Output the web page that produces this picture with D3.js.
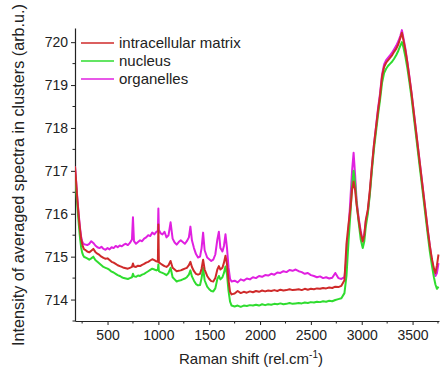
<!DOCTYPE html>
<html>
<head>
<meta charset="utf-8">
<script src="https://cdn.jsdelivr.net/npm/d3@7"></script>
<style>
  html, body { margin: 0; padding: 0; background: #fff; }
  svg { display: block; font-family: "Liberation Sans", Arial, sans-serif; }
</style>
</head>
<body>
<svg id="chart" width="442" height="377"></svg>
<script>
// Raman shift grid (rel. cm^-1), shared by all three averaged spectra
const shift = [
  180, 190, 200, 210, 220, 230, 240, 250, 260, 270,
  285, 300, 320, 340, 360, 380, 400, 420, 440, 460,
  480, 500, 520, 540, 560, 580, 600, 620, 640, 660,
  680, 700, 720, 740, 750, 760, 780, 800, 820, 840,
  860, 880, 900, 920, 940, 960, 980, 995, 1000, 1005,
  1020, 1040, 1060, 1080, 1100, 1120, 1140, 1160, 1180, 1200,
  1220, 1240, 1260, 1280, 1300, 1315, 1330, 1350, 1370, 1390,
  1410, 1425, 1440, 1455, 1480, 1500, 1520, 1540, 1560, 1580,
  1595, 1610, 1630, 1645, 1660, 1675, 1690, 1705, 1720, 1750,
  1780, 1810, 1840, 1870, 1900, 1930, 1960, 1990, 2020, 2050,
  2080, 2110, 2140, 2170, 2200, 2230, 2260, 2290, 2320, 2350,
  2380, 2410, 2440, 2470, 2500, 2530, 2560, 2590, 2620, 2650,
  2680, 2710, 2740, 2770, 2800, 2830, 2850, 2870, 2890, 2905,
  2920, 2935, 2950, 2970, 2990, 3010, 3025, 3040, 3060, 3080,
  3100, 3120, 3140, 3160, 3180, 3200, 3220, 3240, 3260, 3280,
  3300, 3320, 3340, 3360, 3380, 3395, 3410, 3430, 3450, 3470,
  3490, 3510, 3530, 3550, 3570, 3590, 3610, 3630, 3650, 3670,
  3690, 3710, 3725, 3740, 3755
];

// intracellular matrix
const matrix = [
  717.10, 716.78, 716.42, 716.12, 715.85, 715.62, 715.42, 715.30, 715.22, 715.17,
  715.15, 715.12, 715.10, 715.14, 715.18, 715.11, 715.07, 715.04, 715.00, 714.97,
  714.95, 714.96, 714.92, 714.88, 714.86, 714.83, 714.80, 714.78, 714.76, 714.74,
  714.73, 714.72, 714.74, 714.76, 714.84, 714.77, 714.76, 714.79, 714.78, 714.81,
  714.83, 714.86, 714.88, 714.91, 714.94, 714.92, 714.89, 714.88, 715.75, 714.87,
  714.84, 714.81, 714.78, 714.76, 714.80, 714.90, 714.74, 714.70, 714.66, 714.67,
  714.68, 714.70, 714.72, 714.74, 714.80, 714.88, 714.76, 714.66, 714.60, 714.58,
  714.60, 714.72, 714.93, 714.70, 714.55, 714.48, 714.43, 714.42, 714.50, 714.70,
  714.78, 714.70, 714.74, 714.86, 715.02, 714.82, 714.45, 714.18, 714.12, 714.14,
  714.20, 714.15, 714.18, 714.16, 714.19, 714.17, 714.20, 714.18, 714.21, 714.19,
  714.21, 714.20, 714.22, 714.20, 714.23, 714.21, 714.22, 714.24, 714.22, 714.23,
  714.24, 714.22, 714.25, 714.23, 714.25, 714.24, 714.26, 714.25, 714.27, 714.26,
  714.28, 714.27, 714.30, 714.29, 714.32, 714.45, 715.30, 715.75, 716.15, 716.55,
  716.75, 716.55, 716.20, 715.85, 715.55, 715.35, 715.50, 715.85, 716.10, 716.55,
  717.10, 717.60, 718.00, 718.40, 718.75, 719.20, 719.42, 719.52, 719.58, 719.64,
  719.70, 719.78, 719.85, 719.95, 720.10, 720.22, 720.05, 719.80, 719.50, 719.15,
  718.80, 718.40, 718.00, 717.60, 717.20, 716.80, 716.40, 716.00, 715.60, 715.25,
  714.95, 714.72, 714.62, 714.80, 715.05
];

// nucleus
const nucleus = [
  716.95, 716.62, 716.28, 715.96, 715.68, 715.42, 715.22, 715.10, 715.03, 714.99,
  714.98, 714.96, 714.93, 714.96, 715.00, 714.92, 714.88, 714.84, 714.80, 714.76,
  714.74, 714.72, 714.69, 714.65, 714.63, 714.60, 714.57, 714.55, 714.52, 714.50,
  714.49, 714.48, 714.50, 714.52, 714.60, 714.54, 714.53, 714.56, 714.55, 714.58,
  714.60, 714.63, 714.66, 714.69, 714.72, 714.70, 714.68, 714.70, 714.82, 714.66,
  714.64, 714.62, 714.60, 714.57, 714.62, 714.74, 714.52, 714.47, 714.42, 714.44,
  714.45, 714.47, 714.49, 714.52, 714.58, 714.68, 714.54, 714.44, 714.36, 714.33,
  714.34, 714.50, 714.74, 714.45, 714.30, 714.24, 714.20, 714.19, 714.26, 714.48,
  714.55, 714.47, 714.52, 714.62, 714.77, 714.58, 714.20, 713.95, 713.86, 713.84,
  713.86, 713.83, 713.86, 713.85, 713.87, 713.86, 713.88, 713.86, 713.89, 713.87,
  713.89, 713.88, 713.90, 713.89, 713.91, 713.89, 713.90, 713.92, 713.90, 713.91,
  713.92, 713.91, 713.93, 713.92, 713.94, 713.93, 713.95, 713.94, 713.96, 713.95,
  713.97, 713.96, 713.99, 714.01, 714.03, 714.15, 714.55, 715.35, 716.05, 716.65,
  717.00, 716.70, 716.25, 715.80, 715.40, 715.20, 715.35, 715.70, 716.00, 716.45,
  717.00, 717.50, 717.90, 718.30, 718.65, 719.05, 719.28, 719.38, 719.45, 719.50,
  719.55, 719.62, 719.70, 719.80, 719.92, 720.00, 719.88, 719.65, 719.38, 719.05,
  718.70, 718.30, 717.90, 717.50, 717.10, 716.70, 716.30, 715.90, 715.50, 715.12,
  714.80, 714.52, 714.35, 714.25, 714.30
];

// organelles
const organelles = [
  717.10, 716.80, 716.46, 716.16, 715.90, 715.66, 715.47, 715.36, 715.31, 715.29,
  715.28, 715.27, 715.30, 715.36, 715.32, 715.26, 715.22, 715.20, 715.23, 715.18,
  715.16, 715.20, 715.17, 715.22, 715.20, 715.25, 715.22, 715.26, 715.24, 715.28,
  715.30, 715.27, 715.32, 715.40, 715.92, 715.36, 715.30, 715.34, 715.38, 715.36,
  715.42, 715.45, 715.50, 715.48, 715.56, 715.52, 715.58, 715.60, 716.12, 715.62,
  715.55, 715.52, 715.58, 715.45, 715.50, 715.80, 715.42, 715.33, 715.28, 715.34,
  715.38, 715.34, 715.30, 715.36, 715.45, 715.70, 715.38, 715.20, 715.06, 714.98,
  715.00, 715.20, 715.56, 715.15, 714.98, 714.94, 714.90, 714.93, 715.05, 715.40,
  715.58, 715.20, 715.12, 715.25, 715.52, 715.20, 714.75, 714.48, 714.42, 714.44,
  714.40, 714.47, 714.44, 714.49, 714.47, 714.52, 714.50, 714.55, 714.53, 714.57,
  714.56, 714.60, 714.58, 714.63, 714.62, 714.66, 714.64, 714.69, 714.67, 714.70,
  714.66, 714.64, 714.60, 714.62, 714.57, 714.55, 714.52, 714.54, 714.50, 714.52,
  714.49, 714.51, 714.62, 714.50, 714.48, 714.52, 714.95, 715.60, 716.40, 717.00,
  717.42, 716.90, 716.30, 715.90, 715.60, 715.38, 715.50, 715.82, 716.05, 716.50,
  717.08, 717.60, 718.02, 718.45, 718.80, 719.25, 719.48, 719.58, 719.64, 719.70,
  719.76, 719.84, 719.92, 720.02, 720.15, 720.28, 720.10, 719.84, 719.52, 719.18,
  718.82, 718.42, 718.02, 717.62, 717.22, 716.82, 716.42, 716.02, 715.62, 715.25,
  714.92, 714.68, 714.55, 714.62, 714.85
];

const seriesNames = ["intracellular matrix", "nucleus", "organelles"];
const seriesColors = ["#cf2a2a", "#2fdc2f", "#e020e0"];
const xTicks = [500, 1000, 1500, 2000, 2500, 3000, 3500];
const yTicks = [714, 715, 716, 717, 718, 719, 720];

const svg = d3.select("#chart");
const plotLeft = 75, plotRight = 439, plotTop = 28, plotBottom = 321;

const x = d3.scaleLinear().domain([180, 3760]).range([plotLeft, plotRight]);
const y = d3.scaleLinear().domain([713.5, 720.33]).range([plotBottom, plotTop]);

// minor ticks
const xMinor = d3.range(250, 3760, 250).filter(v => v % 500 !== 0);
const yMinor = d3.range(713.5, 720.3, 0.5).filter(v => Math.abs(v - Math.round(v)) > 0.1);

const axisColor = "#222";
const fontStack = "Liberation Sans, Arial, sans-serif";

// x axis
const gx = svg.append("g").attr("transform", `translate(0,${plotBottom})`)
  .call(d3.axisBottom(x).tickValues(xTicks).tickSize(4).tickSizeOuter(0).tickPadding(5)
    .tickFormat(d3.format("d")));
gx.selectAll("line").attr("stroke", axisColor);
gx.select(".domain").attr("stroke", axisColor).attr("stroke-width", 1.2);
gx.selectAll("text").attr("font-size", 14).attr("fill", "#222").attr("font-family", fontStack);
svg.append("g").attr("transform", `translate(0,${plotBottom})`)
  .selectAll("line").data(xMinor).join("line")
  .attr("x1", d => x(d)).attr("x2", d => x(d)).attr("y1", 0).attr("y2", 2.5)
  .attr("stroke", axisColor);

// y axis
const gy = svg.append("g").attr("transform", `translate(${plotLeft},0)`)
  .call(d3.axisLeft(y).tickValues(yTicks).tickSize(4).tickSizeOuter(0).tickPadding(3)
    .tickFormat(d3.format("d")));
gy.selectAll("line").attr("stroke", axisColor);
gy.select(".domain").attr("stroke", axisColor).attr("stroke-width", 1.2);
gy.selectAll("text").attr("font-size", 14).attr("fill", "#222").attr("font-family", fontStack);
svg.append("g").attr("transform", `translate(${plotLeft},0)`)
  .selectAll("line").data(yMinor).join("line")
  .attr("x1", -2.5).attr("x2", 0).attr("y1", d => y(d)).attr("y2", d => y(d))
  .attr("stroke", axisColor);

// axis titles
const xTitle = svg.append("text").attr("x", 251).attr("y", 364)
  .attr("text-anchor", "middle").attr("font-size", 15).attr("fill", "#222");
xTitle.append("tspan").text("Raman shift (rel.cm");
xTitle.append("tspan").attr("dy", -6).attr("font-size", 10).text("-1");
xTitle.append("tspan").attr("dy", 6).text(")");

svg.append("text")
  .attr("transform", "translate(24,175) rotate(-90)")
  .attr("text-anchor", "middle").attr("font-size", 16.2).attr("fill", "#222")
  .text("Intensity of averaged spectra in clusters (arb.u.)");

// spectra: organelles underneath, matrix on top
const line = d3.line().x((d, i) => x(shift[i])).y(d => y(d));
const drawOrder = [
  { values: organelles, color: seriesColors[2] },
  { values: nucleus, color: seriesColors[1] },
  { values: matrix, color: seriesColors[0] }
];
svg.append("defs").append("clipPath").attr("id", "plotClip")
  .append("rect").attr("x", plotLeft).attr("y", 0).attr("width", plotRight - plotLeft + 2).attr("height", plotBottom);
const gLines = svg.append("g").attr("clip-path", "url(#plotClip)");
drawOrder.forEach(s => {
  gLines.append("path").datum(s.values)
    .attr("d", line)
    .attr("fill", "none")
    .attr("stroke", s.color)
    .attr("stroke-width", 2)
    .attr("stroke-linejoin", "round");
});

// legend
const legend = svg.append("g");
seriesNames.forEach((name, i) => {
  const ly = 43 + i * 18;
  legend.append("line").attr("x1", 81).attr("x2", 114).attr("y1", ly).attr("y2", ly)
    .attr("stroke", seriesColors[i]).attr("stroke-width", 1.7);
  legend.append("text").attr("x", 119).attr("y", ly + 5)
    .attr("font-size", 15).attr("fill", "#222").text(name);
});
</script>
</body>
</html>
